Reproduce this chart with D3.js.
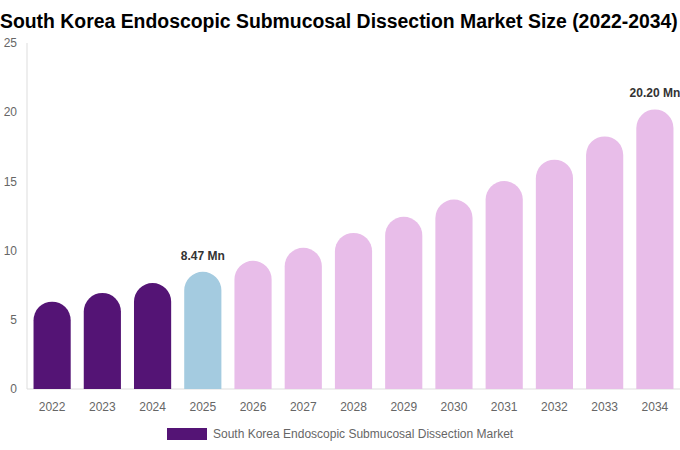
<!DOCTYPE html>
<html>
<head>
<meta charset="utf-8">
<script src="https://cdn.jsdelivr.net/npm/d3@7"></script>
<style>
  body { margin: 0; background: #fff; }
  svg { font-family: "Liberation Sans", Arial, sans-serif; }
</style>
</head>
<body>
<div id="chart"></div>
<script>
const years = ['2022','2023','2024','2025','2026','2027','2028','2029','2030','2031','2032','2033','2034'];
const values = [6.31, 6.94, 7.66, 8.47, 9.26, 10.2, 11.28, 12.44, 13.69, 15.03, 16.57, 18.25, 20.20];
const yTicks = [0, 5, 10, 15, 20, 25];
const labelled = {'2025': '8.47 Mn', '2034': '20.20 Mn'};
const seriesName = 'South Korea Endoscopic Submucosal Dissection Market';

const W = 680, H = 450;
const m = {top: 43, right: 0, bottom: 61, left: 27};

const colorFor = y => +y < 2025 ? '#541475' : (+y === 2025 ? '#a4cbe0' : '#e8bde9');

const svg = d3.select('#chart').append('svg')
  .attr('width', W).attr('height', H);

svg.append('text')
  .attr('x', 0).attr('y', 28)
  .style('font-size', '19.4px').style('font-weight', 'bold').style('fill', '#000')
  .text('South Korea Endoscopic Submucosal Dissection Market Size (2022-2034)');

const x = d3.scaleBand()
  .domain(years)
  .range([m.left, W - m.right])
  .paddingInner(0.26)
  .paddingOuter(0.13);

const y = d3.scaleLinear()
  .domain([0, 25])
  .range([H - m.bottom, m.top]);

// axes lines
svg.append('line')
  .attr('x1', m.left).attr('x2', m.left)
  .attr('y1', y(25)).attr('y2', y(0))
  .style('stroke', '#ddd');
svg.append('line')
  .attr('x1', m.left).attr('x2', W)
  .attr('y1', y(0)).attr('y2', y(0))
  .style('stroke', '#ddd');

svg.selectAll('.ytick')
  .data(yTicks)
  .enter().append('text')
  .attr('class', 'ytick')
  .attr('x', 17).attr('y', d => y(d))
  .attr('dy', '0.35em')
  .attr('text-anchor', 'end')
  .style('font-size', '12px').style('fill', '#666')
  .text(d => d);

svg.selectAll('.xtick')
  .data(years)
  .enter().append('text')
  .attr('class', 'xtick')
  .attr('x', d => x(d) + x.bandwidth() / 2)
  .attr('y', y(0) + 22)
  .attr('text-anchor', 'middle')
  .style('font-size', '12px').style('fill', '#666')
  .text(d => d);

// bars with rounded tops
const bw = x.bandwidth();
const r = bw / 2;
function barPath(x0, top, bottom) {
  const p = d3.path();
  p.moveTo(x0, bottom);
  p.lineTo(x0, top + r);
  p.arc(x0 + r, top + r, r, Math.PI, 0);
  p.lineTo(x0 + bw, bottom);
  p.closePath();
  return p.toString();
}

svg.selectAll('.bar')
  .data(years.map((yr, i) => ({yr, v: values[i]})))
  .enter().append('path')
  .attr('class', 'bar')
  .attr('d', d => barPath(x(d.yr), y(d.v), y(0)))
  .style('fill', d => colorFor(d.yr));

svg.selectAll('.vlabel')
  .data(years.filter(d => labelled[d]))
  .enter().append('text')
  .attr('class', 'vlabel')
  .attr('x', d => x(d) + bw / 2)
  .attr('y', d => y(values[years.indexOf(d)]) - 12)
  .attr('text-anchor', 'middle')
  .style('font-size', '12px').style('font-weight', 'bold').style('fill', '#333')
  .text(d => labelled[d]);

// legend
const lg = svg.append('g').attr('transform', 'translate(167,428)');
lg.append('rect').attr('width', 40).attr('height', 12).style('fill', '#541475');
lg.append('text')
  .attr('x', 46).attr('y', 6).attr('dy', '0.35em')
  .style('font-size', '12px').style('fill', '#666')
  .text(seriesName);
</script>
</body>
</html>
